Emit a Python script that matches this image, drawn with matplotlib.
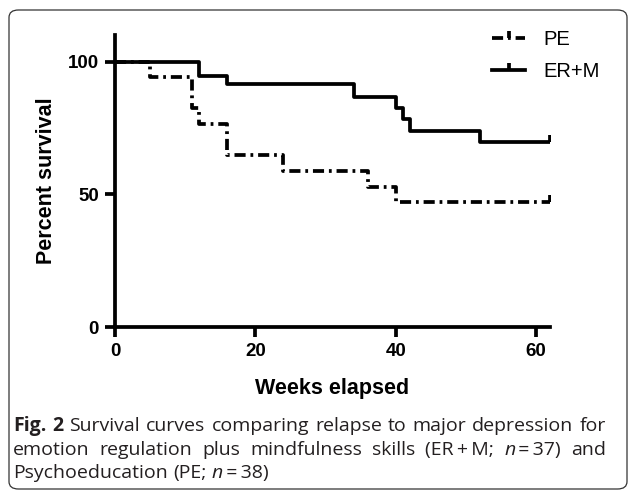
import numpy as np
import matplotlib
matplotlib.use("Agg")
import matplotlib.pyplot as plt
from matplotlib.patches import FancyBboxPatch

# Kaplan-Meier steps (weeks, percent surviving)
pe_weeks = [0, 5, 11, 12, 16, 24, 36, 40, 62]
pe_surv = [100, 94.0, 82.5, 76.6, 64.7, 58.9, 52.8, 47.1, 47.1]
erm_weeks = [0, 12, 16, 34, 40, 41, 42, 52, 62]
erm_surv = [100, 94.6, 91.6, 86.8, 82.6, 78.5, 73.9, 69.7, 69.7]

group_names = ["PE", "ER+M"]
x_ticks = [0, 20, 40, 60]
y_ticks = [0, 50, 100]

# caption: each word is a list of (text, weight, style) runs
R, B, I = ("normal", "normal"), ("bold", "normal"), ("normal", "italic")
caption_lines = [
    [[("Fig.", *B)], [("2", *B)]] + [[(w, *R)] for w in
        "Survival curves comparing relapse to major depression for".split()],
    [[(w, *R)] for w in "emotion regulation plus mindfulness skills".split()]
    + [[("(ER\u2009+\u2009M;", *R)], [("n", *I), ("\u2009=\u200937)", *R)], [("and", *R)]],
    [[(w, *R)] for w in "Psychoeducation (PE;".split()]
    + [[("n", *I), ("\u2009=\u200938)", *R)]],
]
caption_justify = [True, True, False]

plt.rcParams['font.family'] = ['Liberation Sans', 'DejaVu Sans']
plt.rcParams['lines.scale_dashes'] = False

W, H = 629, 497
fig = plt.figure(figsize=(W / 100, H / 100), dpi=100)

# rounded frame around the whole figure
frame = FancyBboxPatch((9 / W, 1 - 489 / H), 618 / W, 479 / H,
                       boxstyle="round,pad=0,rounding_size=0.015",
                       transform=fig.transFigure, fill=False,
                       edgecolor="#333333", linewidth=0.9)
fig.patches.append(frame)

ax = fig.add_axes([115 / W, 1 - 327 / H, 435 / W, 292 / H])

tick_mark = [(0, 0), (0, 1)]
lw = 2.7
ax.step(pe_weeks, pe_surv, where="post", color="black", linewidth=lw,
        dashes=(8, 3.5, 2, 3.5), marker=tick_mark, markersize=10,
        markeredgewidth=lw, markevery=[len(pe_weeks) - 1], label=group_names[0])
ax.step(erm_weeks, erm_surv, where="post", color="black", linewidth=lw,
        marker=tick_mark, markersize=10, markeredgewidth=lw,
        markevery=[len(erm_weeks) - 1], label=group_names[1])

ax.set_xlim(0, 62)
ax.set_ylim(0, 110)
ax.set_xticks(x_ticks)
ax.set_yticks(y_ticks)
for s in ["top", "right"]:
    ax.spines[s].set_visible(False)
for s in ["left", "bottom"]:
    ax.spines[s].set_linewidth(2.7)
ax.tick_params(axis="both", length=7.5, width=2.7, labelsize=13.5, pad=4)
for lab in ax.get_xticklabels() + ax.get_yticklabels():
    lab.set_fontweight("bold")

ax.set_xlabel("Weeks elapsed", fontsize=15.5, fontweight="bold", labelpad=13)
ax.set_ylabel("Percent survival", fontsize=15.5, fontweight="bold", labelpad=8)

leg = ax.legend(loc="upper left", bbox_to_anchor=(369 / 435, 1.045), frameon=False,
                fontsize=14.5, handlelength=1.65, handletextpad=0.9,
                labelspacing=0.65, numpoints=1, borderaxespad=0)

# caption, justified like the journal layout
cap_font = ["Open Sans", "DejaVu Sans"]
cap_size = 14
cap_color = "#231f20"
renderer = fig.canvas.get_renderer()


def draw_caption_line(words, x0, x1, y, justify):
    placed = []
    for word in words:
        runs = []
        for txt, weight, style in word:
            t = fig.text(0, 1 - y / H, txt, fontsize=cap_size, family=cap_font,
                         fontweight=weight, fontstyle=style, color=cap_color,
                         va="baseline", ha="left")
            runs.append((t, t.get_window_extent(renderer).width))
        placed.append(runs)
    widths = [sum(w for _, w in runs) for runs in placed]
    probe = fig.text(0, 0, "a a", fontsize=cap_size, family=cap_font)
    probe2 = fig.text(0, 0, "aa", fontsize=cap_size, family=cap_font)
    space = probe.get_window_extent(renderer).width - probe2.get_window_extent(renderer).width
    probe.remove()
    probe2.remove()
    gap = space
    if justify and len(placed) > 1:
        gap = (x1 - x0 - sum(widths)) / (len(placed) - 1)
    x = x0
    for runs, wd in zip(placed, widths):
        xr = x
        for t, w in runs:
            t.set_x(xr / W)
            xr += w
        x += wd + gap


for line, just, yb in zip(caption_lines, caption_justify, [431, 455, 478]):
    draw_caption_line(line, 13, 606, yb, just)

fig.savefig("out.png", dpi=100)
